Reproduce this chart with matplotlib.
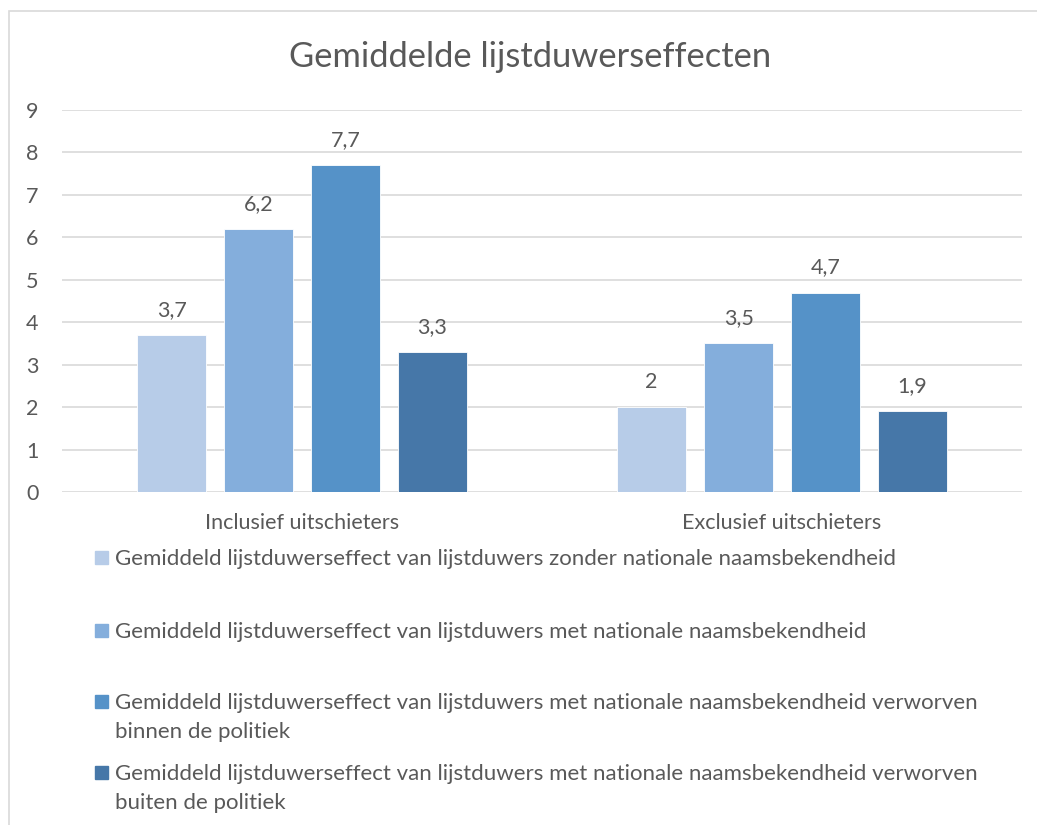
import matplotlib.pyplot as plt
from matplotlib.patches import Rectangle
import numpy as np

plt.rcParams["font.family"] = ["Lato", "DejaVu Sans"]

categories = ["Inclusief uitschieters", "Exclusief uitschieters"]
series_labels = [
    "Gemiddeld lijstduwerseffect van lijstduwers zonder nationale naamsbekendheid",
    "Gemiddeld lijstduwerseffect van lijstduwers met nationale naamsbekendheid",
    "Gemiddeld lijstduwerseffect van lijstduwers met nationale naamsbekendheid verworven\nbinnen de politiek",
    "Gemiddeld lijstduwerseffect van lijstduwers met nationale naamsbekendheid verworven\nbuiten de politiek",
]
series_values = [
    [3.7, 2.0],
    [6.2, 3.5],
    [7.7, 4.7],
    [3.3, 1.9],
]
colors = ["#B7CCE8", "#84AEDC", "#5592C8", "#4677A8"]
yticks = list(range(0, 10))

text_color = "#595959"
grid_color = "#D9D9D9"

W, H = 1037, 825
fig = plt.figure(figsize=(W / 100, H / 100), dpi=100)
ax = fig.add_axes([62 / W, 1 - 492 / H, (1022 - 62) / W, (492 - 110) / H])

# outer chart border
fig.patches.append(
    Rectangle((9 / W, -0.05), 1.2, (825 - 11) / H + 0.05,
              transform=fig.transFigure, fill=False,
              edgecolor=grid_color, linewidth=1.2)
)

x = np.arange(len(categories))
width = 0.144
step = 0.181
for i, (vals, color) in enumerate(zip(series_values, colors)):
    pos = x + (i - 1.5) * step
    bars = ax.bar(pos, vals, width=width, color=color, edgecolor="white",
                  linewidth=0.6, zorder=3)
    for b, v in zip(bars, vals):
        label = f"{v:g}".replace(".", ",")
        ax.annotate(label, (b.get_x() + b.get_width() / 2, v),
                    xytext=(0, 18), textcoords="offset points",
                    ha="center", va="center", fontsize=15.5, color=text_color)

ax.set_xlim(-0.5, 1.5)
ax.set_ylim(0, 9)
ax.set_yticks(yticks)
ax.set_yticklabels([str(t) for t in yticks])
ax.set_xticks(x)
ax.set_xticklabels(categories)
ax.tick_params(axis="both", length=0, labelsize=15.5, colors=text_color)
ax.tick_params(axis="y", pad=17)
ax.tick_params(axis="x", pad=15)
ax.grid(axis="y", color=grid_color, linewidth=1.2, zorder=0)
for s in ax.spines.values():
    s.set_visible(False)

fig.text(530 / W, 1 - 57 / H, "Gemiddelde lijstduwerseffecten", ha="center",
         va="center", fontsize=24.8, color=text_color)

# legend laid out in equal slots like the original
legend_rows = [557, 630, 701, 772]
for label, color, row in zip(series_labels, colors, legend_rows):
    fig.patches.append(
        Rectangle((95 / W, 1 - (row + 7) / H), 13 / W, 13 / H,
                  transform=fig.transFigure, color=color)
    )
    fig.text(115 / W, 1 - (row - 8) / H, label, ha="left", va="top",
             fontsize=16, color=text_color, linespacing=1.55)

fig.savefig("out.png", dpi=100)
